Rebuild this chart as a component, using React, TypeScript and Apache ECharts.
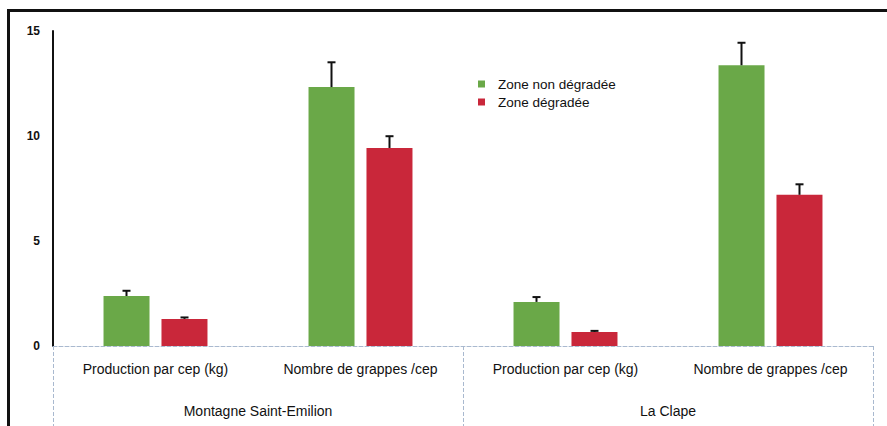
import React, { useEffect, useRef } from "react";
import * as echarts from "echarts";

const categories = [
  "Production par cep (kg)",
  "Nombre de grappes /cep",
  "Production par cep (kg)",
  "Nombre de grappes /cep",
];
const sites = ["Montagne Saint-Emilion", "La Clape"];
const seriesNames = ["Zone non dégradée", "Zone dégradée"];
const greenValues = [2.38, 12.33, 2.1, 13.37];
const greenErrors = [0.25, 1.18, 0.23, 1.07];
const redValues = [1.29, 9.43, 0.67, 7.2];
const redErrors = [0.07, 0.56, 0.05, 0.5];
const yTicks = [0, 5, 10, 15];

const GREEN = "#6aa848";
const RED = "#c9273a";
const DASH = "#a9b9cf";
const FONT = "'Liberation Sans', Arial, sans-serif";

export default function App() {
  const ref = useRef<HTMLDivElement>(null);
  useEffect(() => {
    if (!ref.current) return;
    const chart = echarts.init(ref.current, undefined, { renderer: "svg" });
    const offset = 29;
    const errSeries = (values: number[], errors: number[], dx: number) => ({
      type: "custom",
      xAxisIndex: 0,
      yAxisIndex: 0,
      silent: true,
      z: 5,
      data: values.map((v, i) => [i, v, errors[i]]),
      renderItem: (params: any, api: any) => {
        const base = api.coord([api.value(0), api.value(1)]);
        const top = api.coord([api.value(0), api.value(1) + api.value(2)]);
        const x = base[0] + dx;
        return {
          type: "group",
          children: [
            {
              type: "line",
              shape: { x1: x, y1: base[1], x2: x, y2: top[1] },
              style: { stroke: "#111", lineWidth: 2 },
            },
            {
              type: "line",
              shape: { x1: x - 4, y1: top[1], x2: x + 4, y2: top[1] },
              style: { stroke: "#111", lineWidth: 2 },
            },
          ],
        };
      },
    });
    chart.setOption({
      animation: false,
      backgroundColor: "#ffffff",
      textStyle: { fontFamily: FONT },
      grid: { left: 53, right: 14, top: 31, bottom: 80, containLabel: false },
      legend: {
        orient: "vertical",
        left: 473,
        top: 71,
        icon: "rect",
        itemWidth: 7,
        itemHeight: 7,
        itemGap: 2,
        data: seriesNames,
        textStyle: {
          fontFamily: FONT,
          fontSize: 13.5,
          color: "#111",
          padding: [0, 0, 0, 8],
          lineHeight: 16,
        },
      },
      xAxis: [
        {
          type: "category",
          data: categories,
          axisLine: { show: true, lineStyle: { color: DASH, type: "dashed", width: 1 } },
          axisTick: { show: false },
          axisLabel: { margin: 16, fontSize: 14, color: "#111", fontFamily: FONT, interval: 0 },
          splitLine: { show: false },
        },
        {
          type: "category",
          data: sites,
          position: "bottom",
          axisLine: { show: false },
          axisTick: { show: true, length: 80, lineStyle: { color: DASH, type: "dashed", width: 1 } },
          axisLabel: { margin: 58, fontSize: 14, color: "#111", fontFamily: FONT, interval: 0 },
          splitLine: { show: false },
        },
      ],
      yAxis: {
        type: "value",
        min: yTicks[0],
        max: yTicks[yTicks.length - 1],
        interval: 5,
        axisLine: { show: true, lineStyle: { color: "#111", width: 2 } },
        axisTick: { show: false },
        splitLine: { show: false },
        axisLabel: {
          margin: 13,
          fontSize: 12,
          fontWeight: "bold",
          color: "#111",
          fontFamily: FONT,
        },
      },
      series: [
        {
          name: seriesNames[0],
          type: "bar",
          data: greenValues,
          barWidth: 46,
          barGap: "26%",
          itemStyle: { color: GREEN },
        },
        {
          name: seriesNames[1],
          type: "bar",
          data: redValues,
          barWidth: 46,
          itemStyle: { color: RED },
        },
        errSeries(greenValues, greenErrors, -offset),
        errSeries(redValues, redErrors, offset),
      ],
      graphic: [
        {
          type: "line",
          shape: { x1: 7, y1: 10.5, x2: 887, y2: 10.5 },
          style: { stroke: "#111", lineWidth: 3 },
        },
        {
          type: "line",
          shape: { x1: 8.5, y1: 9, x2: 8.5, y2: 426 },
          style: { stroke: "#111", lineWidth: 3 },
        },
      ],
    });
    return () => chart.dispose();
  }, []);
  return (
    <div
      ref={ref}
      style={{ position: "fixed", left: 0, top: 0, width: 887, height: 426, background: "#fff" }}
    />
  );
}
